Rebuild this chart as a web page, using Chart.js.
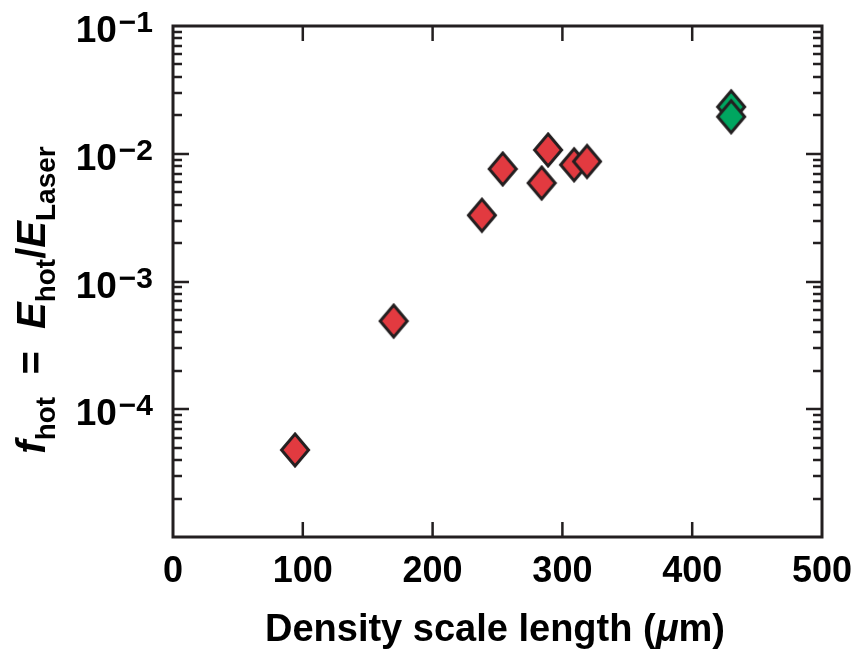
<!DOCTYPE html>
<html>
<head>
<meta charset="utf-8">
<script src="https://cdn.jsdelivr.net/npm/chart.js@4"></script>
<style>
  body { margin: 0; background: #fff; }
  canvas { display: block; }
</style>
</head>
<body>
<canvas id="chart" width="856" height="650"></canvas>
<script>
// data
const redX = [94, 170, 238, 254, 284, 289, 309, 319];
const redY = [4.8e-5, 4.9e-4, 3.3e-3, 7.6e-3, 5.9e-3, 1.07e-2, 8.2e-3, 8.7e-3];
const greenX = [430, 430];
const greenY = [2.33e-2, 1.95e-2];

const xTicks = [0, 100, 200, 300, 400, 500];
const yExponents = [-1, -2, -3, -4];
const yDecades = [-5, -4, -3, -2];   // decades that get minor ticks

const INK = '#231f20';
const FONT = '"Liberation Sans", Arial, Helvetica, sans-serif';

function diamond(fill) {
  let c = document.createElement('canvas');
  c.width = 32; c.height = 38;
  let g = c.getContext('2d');
  g.beginPath();
  g.moveTo(16, 3);
  g.lineTo(29.5, 19);
  g.lineTo(16, 35);
  g.lineTo(2.5, 19);
  g.closePath();
  g.fillStyle = fill;
  g.fill();
  g.lineWidth = 3;
  g.strokeStyle = INK;
  g.stroke();
  return c;
}

let toPoints = (xs, ys) => xs.map((x, i) => ({ x: x, y: ys[i] }));

// frame + inward ticks on all four sides
const frame = {
  id: 'frame',
  beforeDatasetsDraw(chart) {
    let ctx = chart.ctx;
    let a = chart.chartArea;
    let xs = chart.scales.x, ys = chart.scales.y;
    ctx.save();
    ctx.strokeStyle = INK;
    ctx.lineWidth = 2.5;
    ctx.beginPath();
    xTicks.slice(1, -1).forEach(v => {
      let px = xs.getPixelForValue(v);
      ctx.moveTo(px, a.bottom); ctx.lineTo(px, a.bottom - 15);
      ctx.moveTo(px, a.top); ctx.lineTo(px, a.top + 15);
    });
    yDecades.forEach(e => {
      for (let m = 1; m <= 9; m++) {
        let v = m * Math.pow(10, e);
        let len = m === 1 ? 16 : 9;
        if (m === 1 && e === -5) continue;
        let py = Math.round(ys.getPixelForValue(v));
        ctx.moveTo(a.left, py); ctx.lineTo(a.left + len, py);
        ctx.moveTo(a.right, py); ctx.lineTo(a.right - len, py);
      }
    });
    ctx.stroke();
    ctx.lineWidth = 3;
    ctx.strokeRect(a.left, a.top, a.right - a.left, a.bottom - a.top);
    ctx.restore();
  },
  afterDraw(chart) {
    let ctx = chart.ctx;
    let a = chart.chartArea;
    let xs = chart.scales.x, ys = chart.scales.y;
    ctx.save();
    ctx.fillStyle = '#000';
    ctx.textBaseline = 'alphabetic';

    // x tick labels
    ctx.font = 'bold 36px ' + FONT;
    ctx.textAlign = 'center';
    xTicks.forEach(v => ctx.fillText(String(v), xs.getPixelForValue(v), 582));

    // y tick labels 10^-n
    yExponents.forEach(e => {
      let py = ys.getPixelForValue(Math.pow(10, e));
      ctx.textAlign = 'right';
      ctx.font = 'bold 30px ' + FONT;
      let sup = '\u2212' + Math.abs(e);
      let supRight = a.left - 20;
      ctx.fillText(sup, supRight, py + 6);
      let supW = ctx.measureText(sup).width;
      ctx.font = 'bold 37px ' + FONT;
      ctx.fillText('10', supRight - supW - 2, py + 16);
    });

    // x axis title
    ctx.textAlign = 'left';
    let parts = [
      { t: 'Density scale length (', f: 'bold 38px ' + FONT },
      { t: '\u03bc', f: 'italic bold 38px ' + FONT },
      { t: 'm)', f: 'bold 38px ' + FONT }
    ];
    let w = 0;
    parts.forEach(p => { ctx.font = p.f; p.w = ctx.measureText(p.t).width; w += p.w; });
    let x = 495 - w / 2;
    parts.forEach(p => { ctx.font = p.f; ctx.fillText(p.t, x, 641); x += p.w; });

    // y axis title, rotated
    let seg = [
      { t: 'f', f: 'italic bold 40px ' + FONT, dy: 0 },
      { t: 'hot', f: 'bold 28px ' + FONT, dy: 10 },
      { t: '  =  ', f: 'bold 40px ' + FONT, dy: 0 },
      { t: 'E', f: 'italic bold 40px ' + FONT, dy: 0 },
      { t: 'hot', f: 'bold 28px ' + FONT, dy: 10 },
      { t: '/', f: 'bold 40px ' + FONT, dy: 0 },
      { t: 'E', f: 'italic bold 40px ' + FONT, dy: 0 },
      { t: 'Laser', f: 'bold 28px ' + FONT, dy: 10 }
    ];
    let tw = 0;
    seg.forEach(s => { ctx.font = s.f; s.w = ctx.measureText(s.t).width; tw += s.w; });
    ctx.translate(45, 300);
    ctx.rotate(-Math.PI / 2);
    let sx = -tw / 2;
    seg.forEach(s => { ctx.font = s.f; ctx.fillText(s.t, sx, s.dy); sx += s.w; });
    ctx.restore();
  }
};

let ctx = document.getElementById('chart').getContext('2d');

let chart = new Chart(ctx, {
  type: 'scatter',
  data: {
    datasets: [{
      data: toPoints(redX, redY),
      pointStyle: diamond('#e23a40'),
      pointRadius: 16
    }, {
      data: toPoints(greenX, greenY),
      pointStyle: diamond('#00a660'),
      pointRadius: 16
    }]
  },
  options: {
    animation: false,
    responsive: false,
    layout: { padding: { left: 173, right: 34, top: 26, bottom: 113 } },
    plugins: { legend: { display: false }, tooltip: { enabled: false } },
    scales: {
      x: { display: false, min: 0, max: 500 },
      y: { display: false, type: 'logarithmic', min: 1e-5, max: 1e-1 }
    }
  },
  plugins: [frame]
});
</script>
</body>
</html>
